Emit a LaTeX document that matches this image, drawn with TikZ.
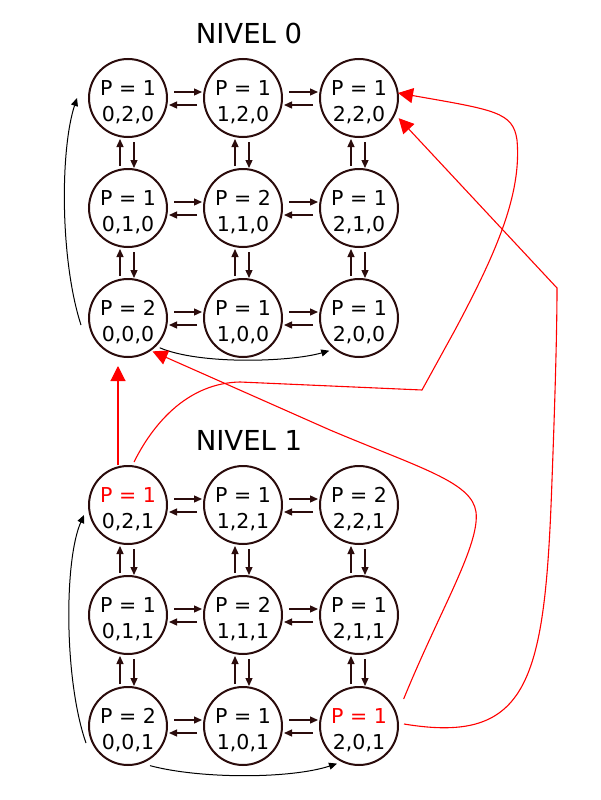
\documentclass[tikz,border=0pt]{standalone}
\usepackage{fontspec}
\setmainfont{DejaVu Sans}
\usetikzlibrary{arrows.meta}
\definecolor{dk}{RGB}{43,12,12}
\newcommand{\stx}[2]{\rule{0pt}{24pt}#1\\#2}
\begin{document}
\begin{tikzpicture}[x=1pt,y=-1pt,
  st/.style={circle,draw=dk,line width=2pt,minimum size=78pt,inner sep=0pt,align=center,
             font=\fontsize{20.5}{26}\selectfont},
  sa/.style={draw=dk,line width=1.3pt,-{Triangle[length=8pt,width=7pt]}},
  lc/.style={draw=black,line width=1pt,-{Triangle[length=8pt,width=7pt]}},
  ra/.style={draw=red,line width=1.1pt,-{Triangle[length=15pt,width=15pt]}},
  ttl/.style={font=\fontsize{27.5}{30}\selectfont}]
\useasboundingbox (0,0) rectangle (600,800);
\fill[white] (0,0) rectangle (600,800);

\node[ttl] (t0) at (249,33) {NIVEL 0};
\node[ttl] (t1) at (249,440) {NIVEL 1};

% level 0
\node[st] (n020) at (128,98)  {\stx{P = 1}{0,2,0}};
\node[st] (n120) at (243,98)  {\stx{P = 1}{1,2,0}};
\node[st] (n220) at (359,98)  {\stx{P = 1}{2,2,0}};
\node[st] (n010) at (128,208) {\stx{P = 1}{0,1,0}};
\node[st] (n110) at (243,208) {\stx{P = 2}{1,1,0}};
\node[st] (n210) at (359,208) {\stx{P = 1}{2,1,0}};
\node[st] (n000) at (128,318) {\stx{P = 2}{0,0,0}};
\node[st] (n100) at (243,318) {\stx{P = 1}{1,0,0}};
\node[st] (n200) at (359,318) {\stx{P = 1}{2,0,0}};
% level 1
\node[st] (n021) at (128,505) {\stx{\textcolor{red}{P = 1}}{0,2,1}};
\node[st] (n121) at (243,505) {\stx{P = 1}{1,2,1}};
\node[st] (n221) at (359,505) {\stx{P = 2}{2,2,1}};
\node[st] (n011) at (128,615) {\stx{P = 1}{0,1,1}};
\node[st] (n111) at (243,615) {\stx{P = 2}{1,1,1}};
\node[st] (n211) at (359,615) {\stx{P = 1}{2,1,1}};
\node[st] (n001) at (128,726) {\stx{P = 2}{0,0,1}};
\node[st] (n101) at (243,726) {\stx{P = 1}{1,0,1}};
\node[st] (n201) at (359,726) {\stx{\textcolor{red}{P = 1}}{2,0,1}};

% grid arrows
\foreach \l in {0,1}{
  \foreach \j in {0,1,2}{
    \foreach \a/\b in {0/1,1/2}{
      \draw[sa] ([xshift=6pt,yshift=6pt]n\a\j\l.east) -- ([xshift=-1pt,yshift=6pt]n\b\j\l.west);
      \draw[sa] ([xshift=-6pt,yshift=-7pt]n\b\j\l.west) -- ([xshift=1pt,yshift=-7pt]n\a\j\l.east);
    }
  }
  \foreach \i in {0,1,2}{
    \foreach \a/\b in {0/1,1/2}{
      \draw[sa] ([xshift=-8pt,yshift=2pt]n\i\a\l.north) -- ([xshift=-8pt,yshift=-1pt]n\i\b\l.south);
      \draw[sa] ([xshift=6pt,yshift=-4pt]n\i\b\l.south) -- ([xshift=6pt,yshift=0pt]n\i\a\l.north);
    }
  }
}

% black curves
\draw[lc] ([xshift=-7pt,yshift=-7pt]n000.west) .. controls (60,260) and (60,150) .. ([xshift=-11pt]n020.west);
\draw[lc] ([xshift=-2pt,yshift=-17pt]n001.west) .. controls (64,680) and (64,560) .. ([xshift=-4pt,yshift=-10pt]n021.west);
\draw[lc] ([xshift=2pt,yshift=-3pt]n000.-42) .. controls (200,365) and (290,362) .. ([xshift=-3pt,yshift=-3pt]n200.-132);
\draw[lc] ([xshift=2pt,yshift=-5pt]n001.-60) .. controls (200,779) and (290,779) .. ([xshift=-2pt,yshift=-3pt]n201.-120);

% red connectors
\draw[ra] ([xshift=-10pt]n021.north) -- ([xshift=-10pt,yshift=-8pt]n000.south);
\draw[ra] ([xshift=6pt,yshift=3pt]n021.north) .. controls (155,420) and (190,383) .. (240,382)
   -- (422,390) -- (455,330) .. controls (495,255) and (522,195) .. (517,140)
   .. controls (513,112) and (495,110) .. ([xshift=-1pt,yshift=5pt]n220.east);
\draw[ra] ([xshift=10pt,yshift=7pt]n201.30) .. controls (440,610) and (480,545) .. (476,512)
   .. controls (472,482) and (420,468) .. (330,430) -- ([xshift=1pt,yshift=-1pt]n000.-54);
\draw[ra] ([xshift=5pt,yshift=2pt]n201.east) .. controls (530,745) and (545,680) .. (552,480)
   .. controls (555,400) and (557,330) .. (557,288) -- ([xshift=4pt,yshift=-2pt]n220.-27);
\end{tikzpicture}
\end{document}
